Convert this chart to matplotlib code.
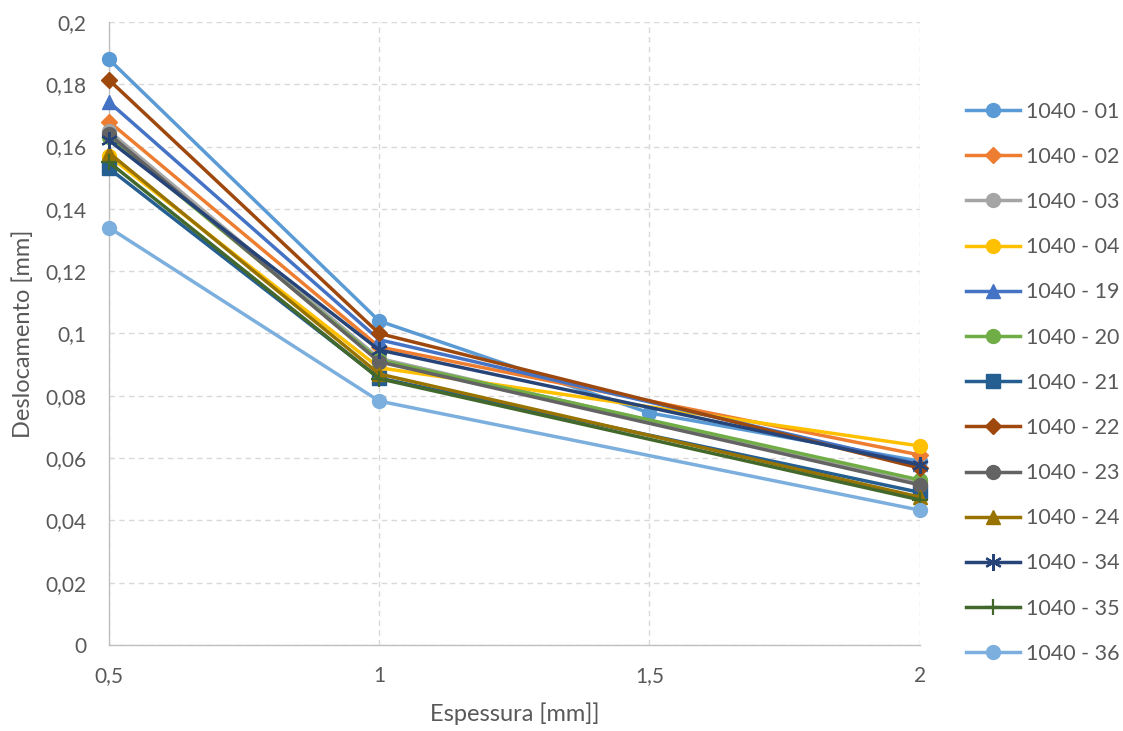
import matplotlib.pyplot as plt
from matplotlib.ticker import FuncFormatter

# Espessura [mm]
x3 = [0.5, 1, 2]
x4 = [0.5, 1, 1.5, 2]

labels = ["1040 - 01", "1040 - 02", "1040 - 03", "1040 - 04", "1040 - 19",
          "1040 - 20", "1040 - 21", "1040 - 22", "1040 - 23", "1040 - 24",
          "1040 - 34", "1040 - 35", "1040 - 36"]

s01 = [0.188, 0.104, 0.0745, 0.059]
s02 = [0.168, 0.0957, 0.061]
s03 = [0.165, 0.092, 0.052]
s04 = [0.157, 0.089, 0.0639]
s19 = [0.1743, 0.098, 0.058]
s20 = [0.163, 0.0915, 0.053]
s21 = [0.153, 0.0857, 0.049]
s22 = [0.1814, 0.100, 0.0568]
s23 = [0.164, 0.0909, 0.0514]
s24 = [0.158, 0.087, 0.0475]
s34 = [0.162, 0.0947, 0.0578]
s35 = [0.155, 0.0855, 0.0466]
s36 = [0.134, 0.0783, 0.0433]

series = [s01, s02, s03, s04, s19, s20, s21, s22, s23, s24, s34, s35, s36]
colors = ["#5B9BD5", "#ED7D31", "#A5A5A5", "#FFC000", "#4472C4", "#70AD47",
          "#255E91", "#9E480E", "#636363", "#997300", "#264478", "#43682B",
          "#7CAFDD"]
markers = ["o", "D", "o", "o", "^", "o", "s", "D", "o", "^", (6, 2, 0), "+", "o"]

plt.rcParams["font.family"] = ["Lato", "DejaVu Sans"]

fig = plt.figure(figsize=(11.23, 7.31), dpi=100)
ax = fig.add_axes([0.097, 0.1176, 0.722, 0.8524])

for lab, vals, c, m in zip(labels, series, colors, markers):
    xs = x4 if len(vals) == 4 else x3
    ms = 10
    if m == "D":
        ms = 8
    thin = m == "+" or isinstance(m, tuple)
    if thin:
        ms = 12
    ax.plot(xs, vals, color=c, linewidth=2.5, marker=m, markersize=ms,
            markeredgewidth=1.6 if thin else 1,
            markeredgecolor=c, markerfacecolor=c, label=lab, clip_on=False,
            zorder=3)

ax.set_xlim(0.5, 2)
ax.set_ylim(0, 0.2)
ax.set_xticks([0.5, 1, 1.5, 2])
ax.set_yticks([i * 0.02 for i in range(11)])

fmt = FuncFormatter(lambda v, p: ("%g" % round(v, 3)).replace(".", ","))
ax.xaxis.set_major_formatter(fmt)
ax.yaxis.set_major_formatter(fmt)

ax.grid(True, color="#D9D9D9", linestyle=(0, (4, 3)), linewidth=1)
for side in ["top", "right"]:
    ax.spines[side].set_visible(False)
for side in ["left", "bottom"]:
    ax.spines[side].set_color("#BFBFBF")
    ax.spines[side].set_linewidth(1)
ax.tick_params(length=0, labelsize=15, colors="#595959")
ax.tick_params(axis="x", pad=15)
ax.tick_params(axis="y", pad=16)

ax.set_xlabel("Espessura [mm]]", fontsize=17, color="#595959", labelpad=12)
ax.set_ylabel("Deslocamento [mm]", fontsize=17, color="#595959", labelpad=8)

leg = fig.legend(loc="upper left", bbox_to_anchor=(0.860, 0.861),
                 frameon=False, fontsize=15.5, handlelength=2.5,
                 handletextpad=0.28, labelspacing=1.17, borderpad=0,
                 borderaxespad=0)
for t in leg.get_texts():
    t.set_color("#595959")

plt.savefig("out.png", dpi=100)
plt.close()
